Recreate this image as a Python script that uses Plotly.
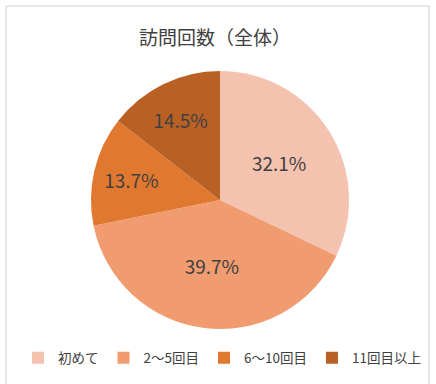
import plotly.graph_objects as go

# 訪問回数（全体）
categories = ["初めて", "2～5回目", "6～10回目", "11回目以上"]
shares = [32.1, 39.7, 13.7, 14.5]
colors = ["#F4C3B0", "#F09C70", "#E07830", "#B96124"]

FONT = "Noto Sans CJK JP, Noto Sans, sans-serif"
TEXT = "#404040"

W, H = 436, 384
ml, mr, mt, mb = 6, 6, 71, 55
pw, ph = W - ml - mr, H - mt - mb

def px_x(x):
    return (x - ml) / pw

def px_y(y):
    return (H - mb - y) / ph

# pie occupies a square centred near x=220 inside the wide plot area
pie_size = ph
pie_cx = 220

fig = go.Figure(
    go.Pie(
        labels=categories,
        values=shares,
        sort=False,
        direction="clockwise",
        rotation=0,
        domain=dict(
            x=[px_x(pie_cx - pie_size / 2), px_x(pie_cx + pie_size / 2)],
            y=[0, 1],
        ),
        marker=dict(colors=colors, line=dict(width=0)),
        texttemplate="%{value:.1f}%",
        textposition="inside",
        insidetextorientation="horizontal",
        textfont=dict(family=FONT, size=19, color=TEXT),
        hoverinfo="label+percent",
    )
)

fig.update_layout(
    width=W,
    height=H,
    margin=dict(l=ml, r=mr, t=mt, b=mb),
    paper_bgcolor="white",
    font=dict(family=FONT, color=TEXT),
    title=dict(
        text="訪問回数（全体）",
        x=215 / W,
        xanchor="center",
        y=1 - 38 / H,
        yanchor="middle",
        font=dict(family=FONT, size=19, color=TEXT),
    ),
    legend=dict(
        orientation="h",
        xref="paper",
        yref="container",
        x=px_x(222),
        xanchor="center",
        y=1 - 358 / H,
        yanchor="middle",
        font=dict(family=FONT, size=13.5, color=TEXT),
        itemwidth=30,
        tracegroupgap=0,
    ),
    shapes=[
        dict(
            type="rect",
            xref="paper",
            yref="paper",
            x0=px_x(6),
            x1=px_x(429),
            y0=px_y(6),
            y1=px_y(390),
            line=dict(color="#D0D0D0", width=1),
            fillcolor="rgba(0,0,0,0)",
            layer="below",
        )
    ],
)

fig.write_html("out.html")
